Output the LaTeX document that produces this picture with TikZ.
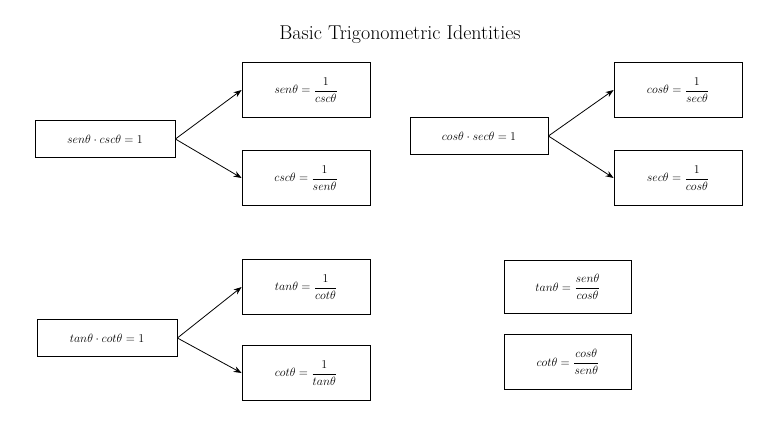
\documentclass[tikz,border=0pt]{standalone}
\usepackage{amsmath}
\usetikzlibrary{arrows.meta}
\begin{document}
\begin{tikzpicture}[x=1pt,y=-1pt,
  box/.style={draw,thick,minimum width=128pt,minimum height=55pt,inner sep=0pt,font=\fontsize{13}{15}\selectfont},
  sbox/.style={draw,thick,minimum width=140pt,minimum height=37pt,inner sep=0pt,font=\fontsize{13}{15}\selectfont},
  arr/.style={thick,-{Stealth[length=8pt,width=6pt]}}]
\useasboundingbox (0,0) rectangle (781,431);
\node[font=\fontsize{20}{24}\selectfont] (title) at (400,35) {Basic Trigonometric Identities};
\node[sbox] (a) at (105,139) {$sen\theta\cdot csc\theta=1$};
\node[box] (b) at (306,90) {$sen\theta=\dfrac{1}{csc\theta}$};
\node[box] (c) at (306,178) {$csc\theta=\dfrac{1}{sen\theta}$};
\node[sbox,minimum width=138pt] (d) at (479,136) {$cos\theta\cdot sec\theta=1$};
\node[box] (e) at (678,90) {$cos\theta=\dfrac{1}{sec\theta}$};
\node[box] (f) at (678,178) {$sec\theta=\dfrac{1}{cos\theta}$};
\node[sbox] (g) at (107,338) {$tan\theta\cdot cot\theta=1$};
\node[box] (h) at (306,287) {$tan\theta=\dfrac{1}{cot\theta}$};
\node[box] (i) at (306,373) {$cot\theta=\dfrac{1}{tan\theta}$};
\node[box,minimum width=127pt,minimum height=53pt] (j) at (568,287) {$tan\theta=\dfrac{sen\theta}{cos\theta}$};
\node[box,minimum width=127pt,minimum height=55pt] (k) at (568,362) {$cot\theta=\dfrac{cos\theta}{sen\theta}$};
\draw[arr] (a.east) -- (b.west);
\draw[arr] (a.east) -- (c.west);
\draw[arr] (d.east) -- (e.west);
\draw[arr] (d.east) -- (f.west);
\draw[arr] (g.east) -- (h.west);
\draw[arr] (g.east) -- (i.west);
\end{tikzpicture}
\end{document}
